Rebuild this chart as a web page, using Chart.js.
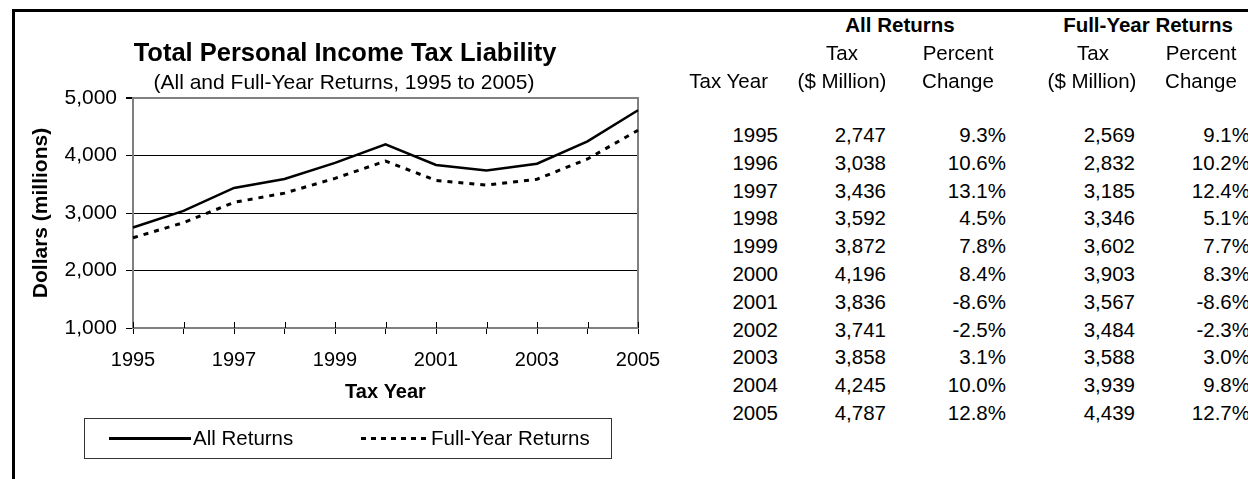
<!DOCTYPE html>
<html>
<head>
<meta charset="utf-8">
<script src="https://cdn.jsdelivr.net/npm/chart.js@4.4.1/dist/chart.umd.min.js"></script>
<style>
  html, body { margin: 0; padding: 0; background: #fff; }
  body { width: 1248px; height: 479px; position: relative; overflow: hidden;
         font-family: "Liberation Sans", Arial, sans-serif; color: #000; }
  #frame { position: absolute; left: 12px; top: 9px; right: -10px; bottom: -10px;
           border-left: 3px solid #000; border-top: 3px solid #000; }
  #chartBox { position: absolute; left: 15px; top: 12px; width: 665px; height: 467px; }
  .txt { position: absolute; white-space: nowrap; text-align: center; }
  #title { left: -55px; width: 800px; top: 37px; font-size: 25.5px; line-height: 30px; font-weight: bold; }
  #subtitle { left: -56px; width: 800px; top: 70px; font-size: 21px; line-height: 24px; }
  #legend { position: absolute; left: 84px; top: 418px; width: 528px; height: 41px;
            border: 1px solid #333; box-sizing: border-box; font-size: 20.5px; }
  #legend .sample { position: absolute; }
  #legend .lbl { position: absolute; top: 7px; line-height: 24px; }
  #table div { position: absolute; font-size: 20.5px; line-height: 24px; white-space: nowrap; }
  #table .b { font-weight: bold; }
</style>
</head>
<body>
<div id="frame"></div>
<div id="chartBox"><canvas id="taxChart"></canvas></div>
<div id="title" class="txt">Total Personal Income Tax Liability</div>
<div id="subtitle" class="txt">(All and Full-Year Returns, 1995 to 2005)</div>
<div id="legend">
  <div class="sample" style="left:24px; top:18px; width:82px; height:2.5px; background:#000;"></div>
  <div class="lbl" style="left:108px;">All Returns</div>
  <div class="sample" style="left:276px; top:18px; width:66px; height:3px;
       background:repeating-linear-gradient(90deg, #000 0 5px, transparent 5px 10px);"></div>
  <div class="lbl" style="left:346px;">Full-Year Returns</div>
</div>
<div id="table"></div>

<script>
const years = ['1995', '1996', '1997', '1998', '1999', '2000', '2001', '2002', '2003', '2004', '2005'];
const allReturns = [2747, 3038, 3436, 3592, 3872, 4196, 3836, 3741, 3858, 4245, 4787];
const allChange = ['9.3%', '10.6%', '13.1%', '4.5%', '7.8%', '8.4%', '-8.6%', '-2.5%', '3.1%', '10.0%', '12.8%'];
const fullYear = [2569, 2832, 3185, 3346, 3602, 3903, 3567, 3484, 3588, 3939, 4439];
const fullChange = ['9.1%', '10.2%', '12.4%', '5.1%', '7.7%', '8.3%', '-8.6%', '-2.3%', '3.0%', '9.8%', '12.7%'];
const yTicks = [1000, 2000, 3000, 4000, 5000];

const fontFamily = '"Liberation Sans", Arial, sans-serif';

// Gray border around the plot area, plus the short tick marks that poke up into it
const plotBorder = {
    id: 'plotBorder',
    beforeDatasetsDraw(chart) {
        const { ctx, chartArea, scales } = chart;
        ctx.save();
        ctx.strokeStyle = '#808080';
        ctx.lineWidth = 2;
        ctx.strokeRect(chartArea.left, chartArea.top, chartArea.right - chartArea.left, chartArea.bottom - chartArea.top);
        ctx.strokeStyle = '#000';
        ctx.lineWidth = 1;
        scales.x.ticks.forEach((t, i) => {
            const x = Math.round(scales.x.getPixelForTick(i)) + 0.5;
            ctx.beginPath();
            ctx.moveTo(x, chartArea.bottom);
            ctx.lineTo(x, chartArea.bottom - 6);
            ctx.stroke();
        });
        ctx.restore();
    }
};

const ctx = document.getElementById('taxChart');
new Chart(ctx, {
    type: 'line',
    data: {
        labels: years,
        datasets: [{
            label: 'All Returns',
            data: allReturns,
            borderColor: '#000',
            borderWidth: 2.5,
            pointRadius: 0,
            tension: 0
        }, {
            label: 'Full-Year Returns',
            data: fullYear,
            borderColor: '#000',
            borderWidth: 3,
            borderDash: [5, 6],
            pointRadius: 0,
            tension: 0
        }]
    },
    options: {
        responsive: true,
        maintainAspectRatio: false,
        animation: false,
        layout: { padding: { left: 0, right: 42, top: 86, bottom: 61 } },
        plugins: {
            legend: { display: false },
            tooltip: { enabled: false }
        },
        scales: {
            x: {
                afterFit(scale) { scale.height = 90; },
                grid: {
                    drawOnChartArea: false,
                    drawTicks: true,
                    tickLength: 6,
                    tickColor: '#000',
                    color: '#000'
                },
                border: { color: '#000', width: 2 },
                ticks: {
                    autoSkip: false,
                    maxRotation: 0,
                    padding: 14,
                    color: '#000',
                    font: { family: fontFamily, size: 20 },
                    callback: (v, i) => (i % 2 === 0 ? years[i] : '')
                },
                title: {
                    display: true,
                    text: 'Tax Year',
                    color: '#000',
                    font: { family: fontFamily, size: 20, weight: 'bold' },
                    padding: { top: 4, bottom: 14 }
                }
            },
            y: {
                min: yTicks[0],
                max: yTicks[yTicks.length - 1],
                afterFit(scale) { scale.width = 118; },
                afterBuildTicks(scale) { scale.ticks = yTicks.map(v => ({ value: v })); },
                grid: {
                    tickLength: 7,
                    tickColor: '#000',
                    color: c => (c.tick && c.tick.value === 5000 ? '#808080' : '#000'),
                    lineWidth: c => (c.tick && c.tick.value === 5000 ? 2 : 1)
                },
                border: { color: '#000', width: 2 },
                ticks: {
                    padding: 9,
                    color: '#000',
                    font: { family: fontFamily, size: 21 },
                    callback: v => v.toLocaleString('en-US')
                },
                title: {
                    display: true,
                    text: 'Dollars (millions)',
                    color: '#000',
                    font: { family: fontFamily, size: 21, weight: 'bold' },
                    padding: { top: 14, bottom: 0 }
                }
            }
        }
    },
    plugins: [plotBorder]
});

// Table on the right
const table = document.getElementById('table');
function cell(text, x, y, align, bold) {
    const d = document.createElement('div');
    d.textContent = text;
    if (bold) d.className = 'b';
    d.style.top = (y - 12) + 'px';
    if (align === 'right') {
        d.style.right = (1248 - x) + 'px';
    } else if (align === 'center') {
        d.style.left = (x - 150) + 'px';
        d.style.width = '300px';
        d.style.textAlign = 'center';
    } else {
        d.style.left = x + 'px';
    }
    table.appendChild(d);
}

const colYear = 778, colAllTax = 886, colAllPct = 1006, colFullTax = 1135, colFullPct = 1250;
cell('All Returns', 900, 25, 'center', true);
cell('Full-Year Returns', 1148, 25, 'center', true);
cell('Tax', 842, 53, 'center');
cell('Percent', 958, 53, 'center');
cell('Tax', 1093, 53, 'center');
cell('Percent', 1201, 53, 'center');
cell('Tax Year', 768, 81, 'right');
cell('($ Million)', 842, 81, 'center');
cell('Change', 958, 81, 'center');
cell('($ Million)', 1092, 81, 'center');
cell('Change', 1201, 81, 'center');

years.forEach((yr, i) => {
    const y = 135 + i * 27.8;
    cell(yr, colYear, y, 'right');
    cell(allReturns[i].toLocaleString('en-US'), colAllTax, y, 'right');
    cell(allChange[i], colAllPct, y, 'right');
    cell(fullYear[i].toLocaleString('en-US'), colFullTax, y, 'right');
    cell(fullChange[i], colFullPct, y, 'right');
});
</script>
</body>
</html>
